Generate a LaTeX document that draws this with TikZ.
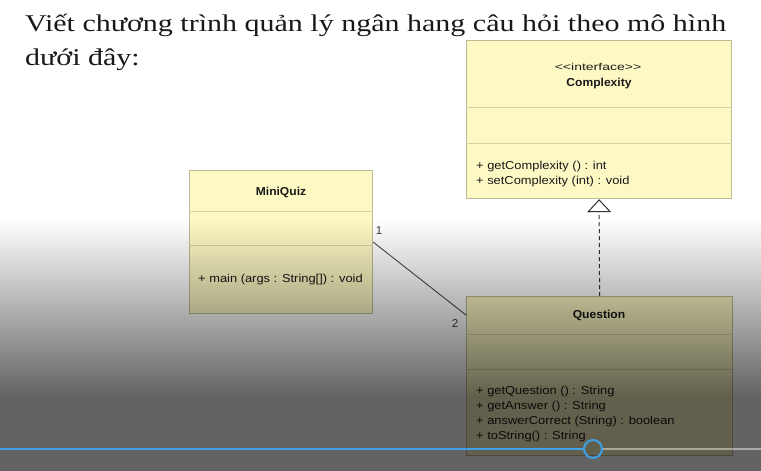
\documentclass[tikz,border=0pt]{standalone}
\usepackage{fontspec}
\usepackage{graphicx}
\setmainfont{Liberation Serif}
\newfontfamily\umlfont{Liberation Sans}
\usetikzlibrary{arrows.meta,fadings}
\newcommand{\hstretch}[2]{\scalebox{#1}[1]{#2}}
\definecolor{boxfill}{RGB}{253,249,196}
\definecolor{boxedge}{RGB}{190,186,150}
\definecolor{divcol}{RGB}{214,209,166}
\definecolor{txt}{RGB}{25,25,25}
\definecolor{ytblue}{RGB}{62,160,230}
\tikzfading[name=fadedown, top color=transparent!100, bottom color=transparent!0]
\tikzset{
  umlbox/.style={draw=boxedge, line width=1.2pt, fill=boxfill, inner sep=0pt, anchor=north west},
  divider/.style={draw=divcol, line width=1pt},
  umltitle/.style={font=\umlfont\bfseries\fontsize{11.5}{12}\selectfont, text=txt, inner sep=0pt},
  umlstereo/.style={font=\umlfont\fontsize{10}{11}\selectfont, text=txt, inner sep=0pt},
  umlop/.style={font=\umlfont\fontsize{11.5}{12}\selectfont, text=txt, inner sep=0pt, anchor=base west},
  mult/.style={font=\umlfont\fontsize{11.5}{12}\selectfont, text=txt!85, inner sep=0pt},
  assoc/.style={draw=black!70, line width=0.9pt},
  realize/.style={draw=black!80, line width=1pt, dash pattern=on 4pt off 3pt, -{Triangle[open, length=13pt, width=24pt, fill=white]}},
  heading/.style={font=\fontsize{24}{28}\selectfont, text=black!90, inner sep=0pt, anchor=base west}
}
\begin{document}
\begin{tikzpicture}[x=1pt, y=-1pt]
\useasboundingbox (0,0) rectangle (761,471);
\fill[white] (0,0) rectangle (761,471);

% heading
\node[heading] (h1) at (25,31) {\hstretch{1.25}{Viết chương trình quản lý ngân hang câu hỏi theo mô hình}};
\node[heading] (h2) at (25,65) {\hstretch{1.25}{dưới đây:}};

% Complexity
\node[umlbox, minimum width=265pt, minimum height=158pt] (cx) at (466,40) {};
\draw[divider] ([yshift=-67pt]cx.north west) -- ([yshift=-67pt]cx.north east);
\draw[divider] ([yshift=-103pt]cx.north west) -- ([yshift=-103pt]cx.north east);
\node[umlstereo] (cxs) at (598,67) {\hstretch{1.4}{<<interface>>}};
\node[umltitle] (cxt) at (599,84) {\hstretch{1.05}{Complexity}};
\node[umlop] (cx1) at (476,169) {\hstretch{1.12}{+ getComplexity () : int}};
\node[umlop] (cx2) at (476,184) {\hstretch{1.12}{+ setComplexity (int) : void}};

% MiniQuiz
\node[umlbox, minimum width=183pt, minimum height=143pt] (mq) at (189,170) {};
\draw[divider] ([yshift=-41pt]mq.north west) -- ([yshift=-41pt]mq.north east);
\draw[divider] ([yshift=-75pt]mq.north west) -- ([yshift=-75pt]mq.north east);
\node[umltitle] (mqt) at (281,192) {\hstretch{1.05}{MiniQuiz}};
\node[umlop] (mq1) at (198,282) {\hstretch{1.12}{+ main (args : String[]) : void}};

% Question
\node[umlbox, minimum width=266pt, minimum height=159pt] (q) at (466,296) {};
\draw[divider] ([yshift=-38pt]q.north west) -- ([yshift=-38pt]q.north east);
\draw[divider] ([yshift=-73pt]q.north west) -- ([yshift=-73pt]q.north east);
\node[umltitle] (qt) at (599,315) {\hstretch{1.05}{Question}};
\node[umlop] (q1) at (476,394) {\hstretch{1.12}{+ getQuestion () : String}};
\node[umlop] (q2) at (476,409) {\hstretch{1.12}{+ getAnswer () : String}};
\node[umlop] (q3) at (476,424) {\hstretch{1.12}{+ answerCorrect (String) : boolean}};
\node[umlop] (q4) at (476,439) {\hstretch{1.12}{+ toString() : String}};

% connectors
\draw[assoc] (mq.east) -- ([yshift=-19pt]q.north west);
\node[mult] (m1) at (379,231) {1};
\node[mult] (m2) at (455,323) {2};
\draw[realize] (q.north) -- (cx.south);

% darkening gradient
\fill[black, fill opacity=0.61, path fading=fadedown] (-6,220) rectangle (767,396);
\fill[black, fill opacity=0.61] (-6,395.6) rectangle (767,477);

% progress bar
\coordinate (pb0) at (0,449);
\coordinate (pb1) at (761,449);
\node[circle, draw=ytblue, line width=2pt, minimum size=18pt, inner sep=0pt] (knob) at (593,449) {};
\draw[ytblue, line width=2pt] (pb0) -- (knob.west);
\draw[white, opacity=0.45, line width=1.5pt] (knob.east) -- (pb1);
\end{tikzpicture}
\end{document}
